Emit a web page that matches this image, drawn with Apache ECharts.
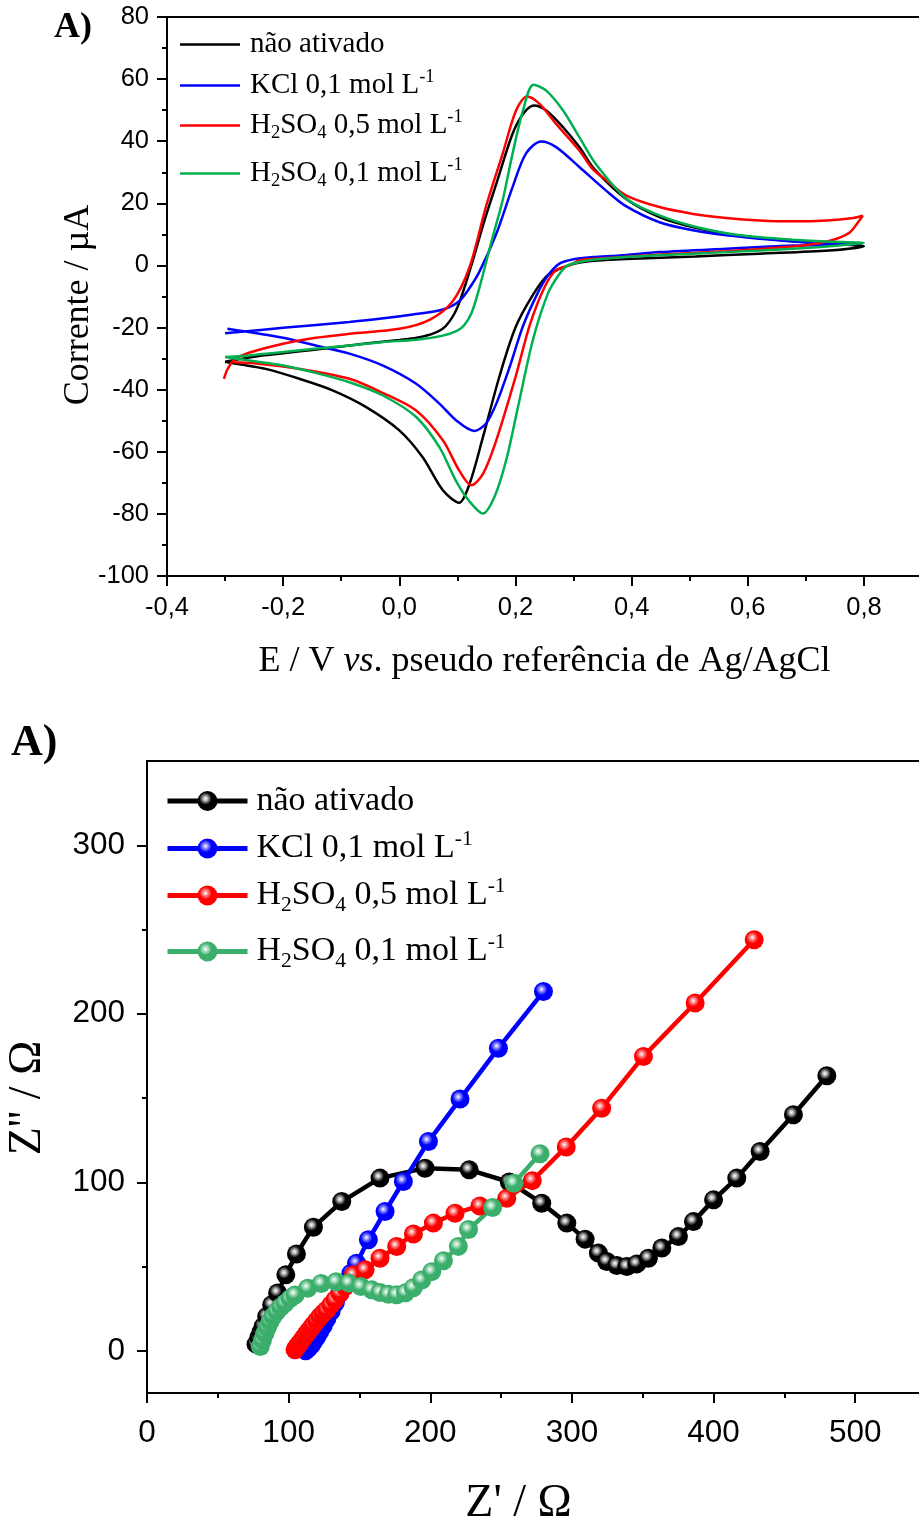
<!DOCTYPE html>
<html>
<head>
<meta charset="utf-8">
<script src="https://cdn.jsdelivr.net/npm/echarts@6/dist/echarts.min.js"></script>
<style>
  html, body { margin: 0; padding: 0; background: #fff; }
  #cv { width: 919px; height: 700px; }
  #eis { width: 919px; height: 817px; }
</style>
</head>
<body>
<div id="cv"></div>
<div id="eis"></div>
<script>
// ---------- Cyclic voltammograms: [E / V, I / µA], forward sweep then reverse sweep ----------
const cvNaoAtivado = [
  [-0.300,-31.0],[-0.250,-29.4],[-0.200,-28.3],[-0.150,-27.2],[-0.100,-26.1],[-0.050,-25.0],[0.000,-24.0],
  [0.030,-23.3],[0.060,-21.8],[0.080,-19.5],[0.100,-13.5],[0.124,0.0],[0.145,13.5],[0.167,26.3],[0.195,42.4],
  [0.213,48.8],[0.232,51.5],[0.253,49.9],[0.282,44.5],[0.310,38.1],[0.336,31.0],[0.390,21.5],[0.448,15.6],
  [0.506,12.3],[0.563,10.2],[0.621,8.8],[0.678,7.8],[0.736,7.0],[0.800,6.2],
  [0.740,4.8],[0.620,3.8],[0.510,2.9],[0.390,2.1],[0.330,1.4],[0.300,0.5],[0.275,-1.2],[0.255,-3.2],
  [0.230,-9.5],[0.200,-20.0],[0.172,-36.0],[0.144,-55.3],[0.121,-70.3],[0.103,-76.4],[0.075,-72.4],
  [0.040,-61.7],[0.000,-53.1],[-0.057,-45.6],[-0.115,-40.2],[-0.172,-36.5],[-0.230,-33.3],[-0.280,-31.7],[-0.300,-31.0]
];
const cvKCl = [
  [-0.300,-21.8],[-0.200,-20.1],[-0.086,-18.2],[-0.034,-17.2],[0.023,-15.8],[0.075,-14.2],[0.103,-11.5],
  [0.120,-7.5],[0.138,-2.0],[0.167,10.2],[0.195,25.2],[0.218,36.0],[0.244,39.9],[0.270,38.1],[0.310,31.7],
  [0.356,24.1],[0.391,19.0],[0.448,13.9],[0.506,11.3],[0.563,9.7],[0.621,8.6],[0.678,7.7],[0.740,7.0],[0.790,6.9],
  [0.740,6.6],[0.678,6.4],[0.563,5.4],[0.448,4.3],[0.379,3.2],[0.333,2.7],[0.300,2.0],[0.275,0.5],[0.255,-3.5],
  [0.238,-9.0],[0.213,-19.5],[0.190,-32.7],[0.167,-44.5],[0.149,-51.0],[0.129,-53.3],[0.098,-49.9],[0.069,-44.5],
  [0.029,-38.1],[-0.029,-32.2],[-0.086,-28.4],[-0.144,-25.8],[-0.200,-23.3],[-0.296,-20.4]
];
const cvH2SO405 = [
  [-0.302,-36.5],[-0.296,-33.5],[-0.285,-30.5],[-0.260,-28.2],[-0.200,-25.2],[-0.144,-23.3],[-0.086,-22.0],
  [0.000,-20.4],[0.052,-17.5],[0.092,-11.5],[0.121,-0.5],[0.149,18.8],[0.178,36.0],[0.201,49.9],[0.220,54.4],
  [0.241,52.1],[0.270,45.6],[0.310,37.0],[0.333,31.0],[0.356,27.5],[0.391,22.5],[0.448,18.8],[0.506,16.6],
  [0.563,15.3],[0.621,14.5],[0.678,14.2],[0.736,14.5],[0.782,15.3],[0.798,16.0],
  [0.790,13.9],[0.776,10.7],[0.753,8.6],[0.724,7.2],[0.678,6.1],[0.563,4.6],[0.448,3.5],[0.333,2.1],
  [0.310,1.6],[0.293,0.0],[0.270,-1.5],[0.250,-7.0],[0.225,-19.0],[0.200,-36.0],[0.167,-56.3],[0.144,-67.1],
  [0.124,-70.8],[0.103,-66.0],[0.075,-56.3],[0.029,-46.7],[-0.029,-41.0],[-0.086,-36.5],[-0.172,-33.3],
  [-0.250,-31.5],[-0.285,-31.2]
];
const cvH2SO401 = [
  [-0.300,-29.5],[-0.250,-28.8],[-0.200,-27.9],[-0.150,-26.9],[-0.086,-25.8],[-0.030,-24.7],[0.029,-23.9],
  [0.075,-22.6],[0.100,-21.0],[0.112,-19.2],[0.124,-15.5],[0.136,-8.5],[0.148,0.0],[0.162,10.0],[0.178,21.0],
  [0.195,36.0],[0.213,49.9],[0.231,58.2],[0.253,56.3],[0.282,49.9],[0.310,41.3],[0.339,32.5],[0.391,21.5],
  [0.448,16.1],[0.506,12.6],[0.563,10.4],[0.621,9.1],[0.678,8.3],[0.736,7.7],[0.800,7.2],
  [0.736,6.1],[0.621,4.8],[0.506,3.8],[0.391,2.7],[0.333,1.8],[0.310,1.1],[0.290,0.0],[0.276,-2.7],
  [0.256,-9.0],[0.230,-24.0],[0.205,-45.0],[0.185,-62.0],[0.165,-74.0],[0.144,-79.9],[0.121,-76.0],
  [0.098,-69.5],[0.069,-58.5],[0.029,-48.8],[-0.029,-41.8],[-0.086,-37.6],[-0.144,-34.6],[-0.200,-32.2],
  [-0.259,-30.6],[-0.300,-29.5]
];

// ---------- Nyquist plots: [Z' / Ω, Z'' / Ω] ----------
const eisNaoAtivado = [
  [77,4],[79,8],[80.5,11],[82,14.5],[84.5,20.4],[88,27.3],[92.2,34.4],[98,45.1],[105.5,57.5],[117.5,73.4],
  [137.5,88.6],[164.5,102.5],[196.3,108.4],[227.5,107.4],[255.8,100.2],[278.7,87.6],[296.4,75.8],[309.3,66.3],
  [318.7,58],[324.6,53],[331.7,50.6],[338.8,50],[345.8,51.6],[354,55],[363.5,61],[375.2,67.8],[385.8,76.7],
  [400,89.6],[416.4,102.5],[432.9,118.3],[456.4,140.1],[480,163.2]
];
const eisKCl = [
  [112,0],[114,1.5],[116,3.5],[118,6],[120,8.5],[122,11.5],[124.5,15],[127,19],[130,23.5],[133,28.5],
  [136,34],[140,40],[144,46],[148,52],[156.3,65.9],[168.1,82.7],[181,100.5],[198.7,124.2],[221,149.4],
  [248.1,179.6],[279.9,213.2]
];
const eisH2SO405 = [
  [104.5,0.6],[105.7,2.1],[106.9,3.6],[108.6,5.5],[110.4,7.5],[112.1,9.5],[113.9,11.5],[115.7,13.5],
  [117.5,15.4],[119.8,17.9],[122.2,20.4],[124.5,22.4],[126.9,24.3],[129.8,27.3],[132.8,30.3],[136.3,34.2],
  [139.8,38.2],[145.7,45.1],[154,48.1],[164.5,55],[176.3,61.9],[188.1,69.3],[202.2,75.8],[217.5,81.7],
  [235,86],[254,90.5],[272,101],[296,121],[321,144],[350.5,174.7],[387,206.4],[428.7,243.9]
];
const eisH2SO401 = [
  [80,2.6],[81.5,6.5],[83.3,10.5],[85,14],[86.9,17.4],[89,20.5],[91.6,23.3],[94.5,26],[97.5,28.3],
  [101,31],[104.5,33.2],[113.5,37.2],[123,40],[133.5,41],[142.5,40.2],[151,38.2],[158.7,36.2],[164.5,34.6],
  [170.4,33.6],[176.3,33.3],[182.5,34.5],[188,37.5],[194,42],[201.1,47],[209.3,53.5],[219.8,62],[227,72],
  [244,85],[259,99.5],[277.5,117]
];

// ---------- Labels and ticks ----------
const seriesNames = ['não ativado', 'KCl 0,1 mol L-1', 'H2SO4 0,5 mol L-1', 'H2SO4 0,1 mol L-1'];
const seriesRichNames = [
  '{t|não ativado}',
  '{t|KCl 0,1 mol L}{sup|-1}',
  '{t|H}{sub|2}{t|SO}{sub|4}{t| 0,5 mol L}{sup|-1}',
  '{t|H}{sub|2}{t|SO}{sub|4}{t| 0,1 mol L}{sup|-1}'
];
const cvColors = ['#000000', '#0000ff', '#ff0000', '#00b050'];
const eisColors = ['#000000', '#0000ff', '#ff0000', '#3cae6c'];
const eisHighlights = ['#b8b8b8', '#9a9aff', '#ff9a9a', '#b6e4c8'];

const cvTicksX = [-0.4, -0.2, 0, 0.2, 0.4, 0.6, 0.8];
const cvMinorX = [-0.3, -0.1, 0.1, 0.3, 0.5, 0.7];
const cvTicksY = [-100, -80, -60, -40, -20, 0, 20, 40, 60, 80];
const cvMinorY = [-90, -70, -50, -30, -10, 10, 30, 50, 70];
const eisTicksX = [0, 100, 200, 300, 400, 500];
const eisMinorX = [50, 150, 250, 350, 450];
const eisTicksY = [0, 100, 200, 300];
const eisMinorY = [50, 150, 250];

const SANS = '"Liberation Sans", Arial, sans-serif';
const SERIF = '"Liberation Serif", "Times New Roman", serif';
const INK = '#000';

// ---------- Axis helpers ----------
function majorAxis(min, max, ticks, fmt, fontSize, margin, extra) {
  return Object.assign({
    type: 'value', min: min, max: max, gridIndex: 0, nameMoveOverlap: false,
    axisLine: { onZero: false, lineStyle: { color: INK, width: 2 } },
    axisTick: { customValues: ticks, length: 10, lineStyle: { color: INK, width: 2 } },
    axisLabel: { customValues: ticks, formatter: fmt, margin: margin, color: INK,
                 fontFamily: SANS, fontSize: fontSize, showMaxLabel: true, showMinLabel: true },
    splitLine: { show: false }
  }, extra);
}
function minorAxis(min, max, ticks, position) {
  return {
    type: 'value', min: min, max: max, gridIndex: 1, position: position,
    axisLine: { show: false, onZero: false },
    axisTick: { customValues: ticks, length: 5, lineStyle: { color: INK, width: 2 } },
    axisLabel: { show: false }, splitLine: { show: false }
  };
}
function frameAxis(min, max, position) {
  return {
    type: 'value', min: min, max: max, gridIndex: 0, position: position,
    axisLine: { onZero: false, lineStyle: { color: INK, width: 2 } },
    axisTick: { show: false }, axisLabel: { show: false }, splitLine: { show: false }
  };
}
function plotGrid(left, top, width, height) {
  return { left: left, top: top, width: width, height: height, outerBoundsMode: 'none', containLabel: false };
}
function legendRich(size, subSize) {
  const lh = Math.round(size * 1.22);
  return {
    t: { fontFamily: SERIF, fontSize: size, color: INK, lineHeight: lh },
    sub: { fontFamily: SERIF, fontSize: subSize, color: INK, lineHeight: Math.round(lh * 0.47), verticalAlign: 'bottom' },
    sup: { fontFamily: SERIF, fontSize: subSize, color: INK, lineHeight: Math.round(lh * 0.76), verticalAlign: 'top' }
  };
}
function sphere(base, light) {
  return {
    type: 'radial', x: 0.4, y: 0.38, r: 0.62,
    colorStops: [
      { offset: 0, color: '#ffffff' },
      { offset: 0.18, color: light },
      { offset: 0.5, color: base },
      { offset: 1, color: base }
    ]
  };
}

// ---------- Top panel: cyclic voltammetry ----------
const decimal1 = function (v) { return v.toFixed(1).replace('.', ','); };
const integer = function (v) { return String(Math.round(v)); };

const cvSeriesData = [cvNaoAtivado, cvKCl, cvH2SO405, cvH2SO401];
const cvLegendTops = [30, 68, 108, 156];

const cvChart = echarts.init(document.getElementById('cv'));
cvChart.setOption({
  animation: false,
  grid: [plotGrid(167, 17, 755, 559), plotGrid(167, 17, 755, 559)],
  xAxis: [
    majorAxis(-0.4, 0.9, cvTicksX, decimal1, 25.5, 19, {
      position: 'bottom',
      name: '{n|E / V }{i|vs}{n|. pseudo referência de Ag/AgCl}',
      nameLocation: 'middle', nameGap: 68,
      nameTextStyle: { rich: {
        n: { fontFamily: SERIF, fontSize: 36, color: INK },
        i: { fontFamily: SERIF, fontSize: 36, color: INK, fontStyle: 'italic' }
      } }
    }),
    frameAxis(-0.4, 0.9, 'top'),
    minorAxis(-0.4, 0.9, cvMinorX, 'bottom')
  ],
  yAxis: [
    majorAxis(-100, 80, cvTicksY, integer, 25.5, 18, {
      position: 'left',
      name: 'Corrente / µA', nameLocation: 'middle', nameGap: 70,
      nameTextStyle: { fontFamily: SERIF, fontSize: 36, color: INK, padding: [0, 17, 0, 0] }
    }),
    minorAxis(-100, 80, cvMinorY, 'left')
  ],
  legend: seriesNames.map(function (name, i) {
    return {
      data: [name], orient: 'vertical', left: 180, top: cvLegendTops[i],
      itemWidth: 60, itemHeight: 14, itemGap: 0, padding: 0, selectedMode: false,
      icon: 'path://M0,0 L24,0 L24,1 L0,1 Z',
      formatter: function () { return seriesRichNames[i]; },
      textStyle: { padding: [0, 0, 0, 5], rich: legendRich(29, 18.5) }
    };
  }),
  graphic: [
    { type: 'text', left: 54, top: 10, style: { text: 'A)', font: 'bold 36px ' + SERIF, fill: INK } }
  ],
  series: cvSeriesData.map(function (data, i) {
    return {
      type: 'line', name: seriesNames[i], data: data, xAxisIndex: 0, yAxisIndex: 0,
      smooth: 0.3, symbol: 'none', clip: true,
      lineStyle: { color: cvColors[i], width: 2.5 }, itemStyle: { color: cvColors[i] }
    };
  })
});

// ---------- Bottom panel: electrochemical impedance (Nyquist) ----------
const eisSeriesData = [eisNaoAtivado, eisKCl, eisH2SO405, eisH2SO401];
const eisLegendTops = [84, 128, 175, 231];

const eisChart = echarts.init(document.getElementById('eis'));
eisChart.setOption({
  animation: false,
  grid: [plotGrid(147, 61, 779, 632), plotGrid(147, 61, 779, 632)],
  xAxis: [
    majorAxis(0, 550, eisTicksX, integer, 31.5, 24, {
      position: 'bottom',
      name: "Z' / Ω", nameLocation: 'middle', nameGap: 88,
      nameTextStyle: { fontFamily: SERIF, fontSize: 46, color: INK, padding: [0, 36, 0, 0] }
    }),
    frameAxis(0, 550, 'top'),
    minorAxis(0, 550, eisMinorX, 'bottom')
  ],
  yAxis: [
    majorAxis(-25, 350, eisTicksY, integer, 31.5, 22, {
      position: 'left',
      name: "Z'' / Ω", nameLocation: 'middle', nameGap: 96,
      nameTextStyle: { fontFamily: SERIF, fontSize: 46, color: INK, padding: [0, 42, 0, 0] }
    }),
    minorAxis(-25, 350, eisMinorY, 'left')
  ],
  legend: seriesNames.map(function (name, i) {
    return {
      data: [name], orient: 'vertical', left: 165, top: eisLegendTops[i],
      itemWidth: 80, itemHeight: 25, itemGap: 0, padding: 0, selectedMode: false,
      lineStyle: { width: 5 },
      formatter: function () { return seriesRichNames[i]; },
      textStyle: { padding: [0, 0, 0, 4], rich: legendRich(34, 21.5) }
    };
  }),
  graphic: [
    { type: 'text', left: 11, top: 22, style: { text: 'A)', font: 'bold 44px ' + SERIF, fill: INK } }
  ],
  series: eisSeriesData.map(function (data, i) {
    return {
      type: 'line', name: seriesNames[i], data: data, xAxisIndex: 0, yAxisIndex: 0,
      symbol: 'circle', symbolSize: 19, showSymbol: true, showAllSymbol: true, clip: true,
      lineStyle: { color: eisColors[i], width: 4.5 },
      itemStyle: { color: sphere(eisColors[i], eisHighlights[i]) }
    };
  })
});
</script>
</body>
</html>
